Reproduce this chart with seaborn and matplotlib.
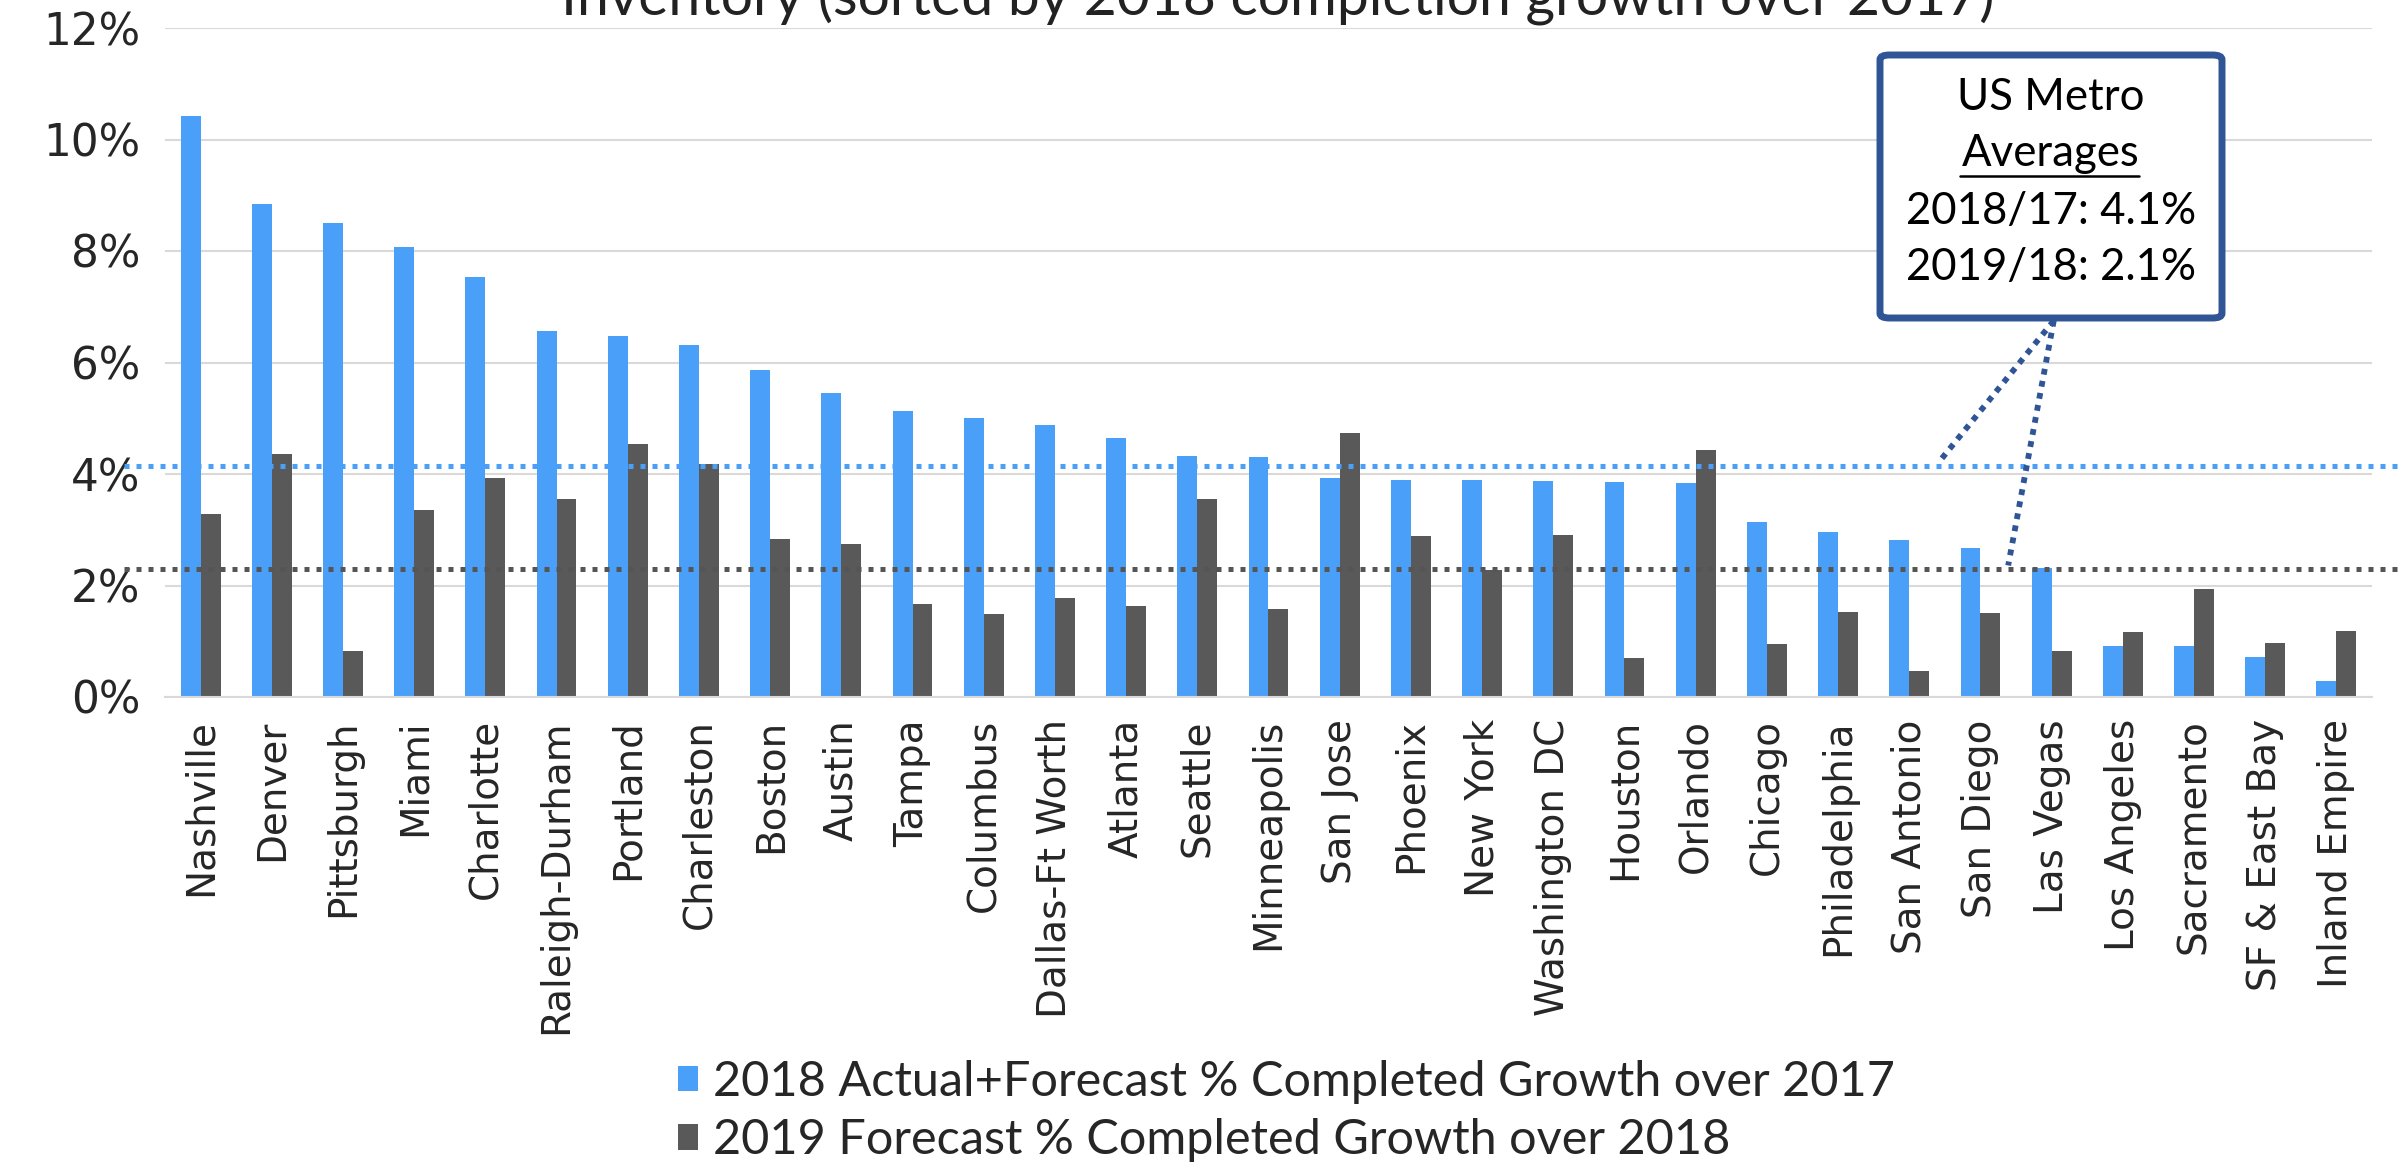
import matplotlib
matplotlib.use("Agg")
import matplotlib.pyplot as plt
from matplotlib.patches import FancyBboxPatch, Patch
import seaborn as sns
import pandas as pd

cities = ["Nashville", "Denver", "Pittsburgh", "Miami", "Charlotte", "Raleigh-Durham",
          "Portland", "Charleston", "Boston", "Austin", "Tampa", "Columbus",
          "Dallas-Ft Worth", "Atlanta", "Seattle", "Minneapolis", "San Jose", "Phoenix",
          "New York", "Washington DC", "Houston", "Orlando", "Chicago", "Philadelphia",
          "San Antonio", "San Diego", "Las Vegas", "Los Angeles", "Sacramento",
          "SF & East Bay", "Inland Empire"]
growth_2018 = [10.43, 8.84, 8.51, 8.07, 7.53, 6.56, 6.48, 6.32, 5.86, 5.45, 5.13, 5.00,
               4.88, 4.64, 4.32, 4.31, 3.92, 3.89, 3.89, 3.88, 3.85, 3.83, 3.14, 2.96,
               2.82, 2.68, 2.31, 0.92, 0.92, 0.71, 0.29]
growth_2019 = [3.29, 4.35, 0.82, 3.36, 3.92, 3.55, 4.54, 4.18, 2.83, 2.74, 1.66, 1.49,
               1.78, 1.63, 3.56, 1.57, 4.73, 2.89, 2.27, 2.90, 0.70, 4.43, 0.95, 1.53,
               0.46, 1.50, 0.82, 1.16, 1.93, 0.97, 1.18]
series_names = ["2018 Actual+Forecast % Completed Growth over 2017",
                "2019 Forecast % Completed Growth over 2018"]
avg_2018 = 4.14
avg_2019 = 2.30
box_lines = ["US Metro", "Averages", "2018/17: 4.1%", "2019/18: 2.1%"]
yticks = [0, 2, 4, 6, 8, 10, 12]
title = "Inventory (sorted by 2018 completion growth over 2017)"

BLUE = "#4A9FF9"
GRAY = "#595959"
NAVY = "#2F5597"
GRID = "#D9D9D9"

sns.set_theme(style="white")
plt.rcParams["font.family"] = ["DejaVu Sans"]

df = pd.DataFrame({
    "city": cities * 2,
    "value": growth_2018 + growth_2019,
    "series": [series_names[0]] * len(cities) + [series_names[1]] * len(cities),
})

fig = plt.figure(figsize=(23.99, 11.65), dpi=100)
ax = fig.add_axes([165 / 2399, 1 - 697 / 1165, (2372 - 165) / 2399, (697 - 28) / 1165])

sns.barplot(data=df, x="city", y="value", hue="series", palette=[BLUE, GRAY],
            width=0.56, saturation=1, ax=ax, legend=False, order=cities,
            hue_order=series_names, linewidth=0)

ax.set_xlim(-0.5, len(cities) - 0.5)
ax.set_ylim(0, 12)
ax.set_yticks(yticks)
ax.set_yticklabels([f"{t}%" for t in yticks], fontsize=31.5)
ax.tick_params(axis="y", length=0, pad=18)
ax.tick_params(axis="x", length=0, pad=16, labelrotation=90, labelsize=28)
ax.set_xlabel("")
ax.set_ylabel("")
ax.yaxis.grid(True, color=GRID, linewidth=1.5)
ax.set_axisbelow(True)
for s in ["top", "right", "left"]:
    ax.spines[s].set_visible(False)
ax.spines["bottom"].set_color(GRID)
ax.spines["bottom"].set_linewidth(1.5)

# average dotted lines
ax.plot([-1.08, 30.95], [avg_2018, avg_2018], color=BLUE, lw=3.6,
        linestyle=(0, (1, 1.4)), clip_on=False, zorder=4)
ax.plot([-1.08, 30.95], [avg_2019, avg_2019], color="#555555", lw=3.6,
        linestyle=(0, (1, 1.4)), clip_on=False, zorder=4)

# connector lines from callout box
ax.plot([26.03, 24.42], [6.75, 4.22], color=NAVY, lw=4.2, linestyle=(0, (1, 1.1)),
        clip_on=False, zorder=5)
ax.plot([26.03, 25.39], [6.75, 2.36], color=NAVY, lw=4.2, linestyle=(0, (1, 1.1)),
        clip_on=False, zorder=5)

# callout box
bx0, bx1 = 1880 / 2399, 2222 / 2399
by0, by1 = 1 - 318 / 1165, 1 - 55 / 1165
box = FancyBboxPatch((bx0, by0), bx1 - bx0, by1 - by0, boxstyle="round,pad=0,rounding_size=0.004",
                     transform=fig.transFigure, facecolor="white", edgecolor=NAVY,
                     linewidth=5, zorder=6)
fig.patches.append(box)
cx = (bx0 + bx1) / 2
line_y = [97, 154, 212, 268]
for txt, yy in zip(box_lines, line_y):
    fig.text(cx, 1 - yy / 1165, txt, ha="center", va="center", fontsize=31.5,
             family=["Lato", "DejaVu Sans"], color="black", zorder=7)
# underline for "Averages"
fig.add_artist(plt.Line2D([1960 / 2399, 2139 / 2399], [1 - 176 / 1165, 1 - 176 / 1165],
                          color="black", lw=1.8, transform=fig.transFigure, zorder=7))

# title (partially cut off at top, as in the source image)
fig.text(1278 / 2399, 1 - 15 / 1165, title, ha="center", va="baseline", fontsize=41,
         family=["Lato", "DejaVu Sans"], color="#222222")

# legend
handles = [Patch(facecolor=BLUE, edgecolor="none"), Patch(facecolor=GRAY, edgecolor="none")]
fig.legend(handles, series_names, loc="center left",
           bbox_to_anchor=(678 / 2399, 1 - 1111 / 1165), frameon=False,
           prop={"family": ["Lato", "DejaVu Sans"], "size": 35},
           handlelength=0.42, handleheight=0.42, handletextpad=0.3,
           labelspacing=0.3, borderpad=0, borderaxespad=0)

fig.savefig("out.png", dpi=100)
